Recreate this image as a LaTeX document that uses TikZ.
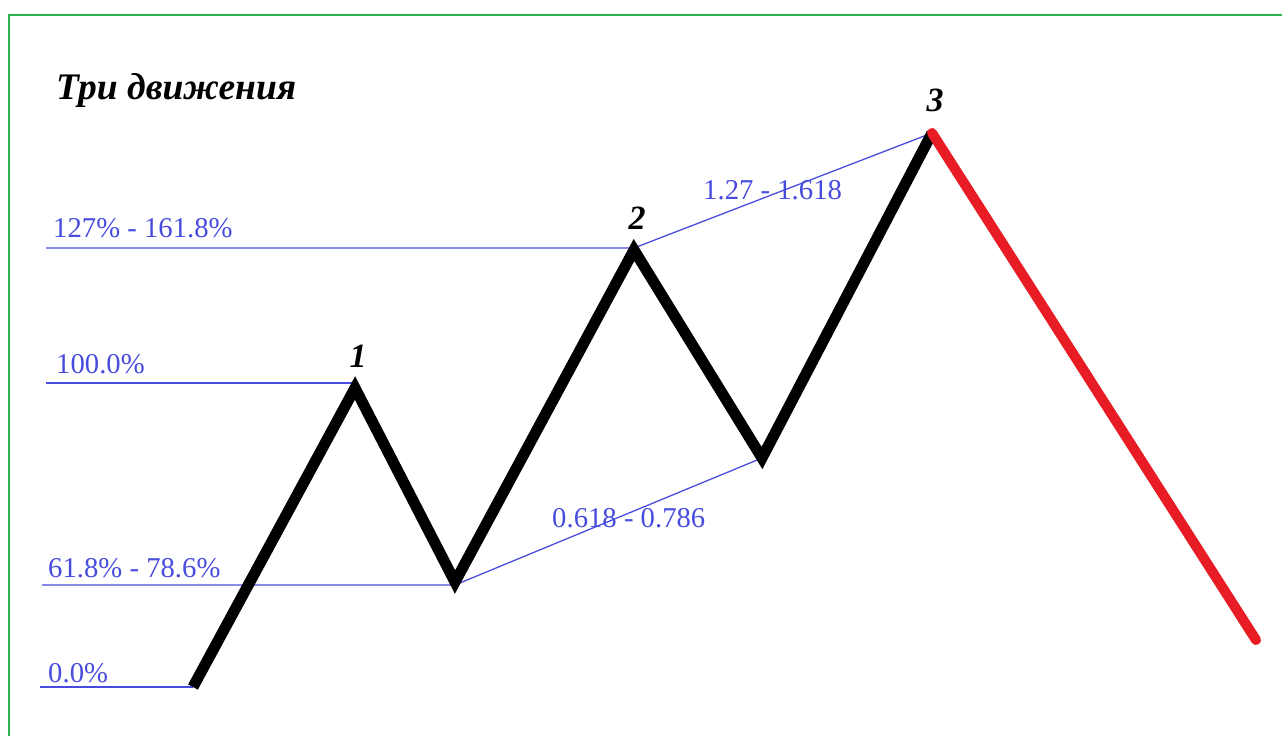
\documentclass[tikz,border=0pt]{standalone}
\usepackage{fontspec}
\setmainfont{Liberation Serif}
\usepackage{xcolor}
\usetikzlibrary{positioning,calc}

\definecolor{levelblue}{RGB}{72,76,222}
\definecolor{framegreen}{RGB}{46,180,80}
\definecolor{movered}{RGB}{232,28,36}

\begin{document}
\begin{tikzpicture}[
    x=0.03cm, y=-0.03cm,
    wave/.style={line width=9.4pt, line join=miter, black},
    back/.style={line width=8.6pt, movered, line cap=round},
    lvl/.style={levelblue, line width=1.1pt},
    lvltxt/.style={text=levelblue, font=\fontsize{24.5}{28}\selectfont, inner sep=0pt, anchor=base west},
    num/.style={font=\fontsize{29}{32}\selectfont\bfseries\itshape, inner sep=0pt, anchor=base},
]
\useasboundingbox (0,0) rectangle (1282,736);

%% Rahmen
\draw[framegreen, line width=2.1pt] (9,736) -- (9,15) -- (1282,15);

%% Punkte der Bewegung
\coordinate (p0)  at (193,687);
\coordinate (pk1) at (355,388);
\coordinate (tr1) at (455,582);
\coordinate (pk2) at (634,250);
\coordinate (tr2) at (762,458);
\coordinate (pk3) at (932,133);
\coordinate (end) at (1256,640);

%% Niveaus
\coordinate (l0)   at (40,687);
\coordinate (l618) at (42,585);
\coordinate (l100) at (46,383);
\coordinate (l127) at (46,248);

\draw[lvl] (l0) -- (l0 -| p0);
\draw[lvl] (l618) -- (l618 -| tr1) -- (tr2);
\draw[lvl] (l100) -- (l100 -| pk1);
\draw[lvl] (l127) -- (l127 -| pk2) -- (pk3);

%% Zickzack
\draw[wave] (p0) -- (pk1) -- (tr1) -- (pk2) -- (tr2) -- (pk3);
\draw[back] (pk3) -- (end);

%% Beschriftungen
\node[font=\fontsize{32}{36}\selectfont\bfseries\itshape, inner sep=0pt, anchor=base west]
    (title) at (56,100) {Три движения};

\node[lvltxt] (t127) at (53,238)  {127\% - 161.8\%};
\node[lvltxt] (t100) at (56,373)  {100.0\%};
\node[lvltxt] (t618) at (48,577)  {61.8\% - 78.6\%};
\node[lvltxt] (t0)   at (48,682)  {0.0\%};
\node[lvltxt] (r1)   at (703,200) {1.27 - 1.618};
\node[lvltxt] (r2)   at (552,527) {0.618 - 0.786};

\node[num] (n1) at (358,367) {1};
\node[num] (n2) at (637,230) {2};
\node[num] (n3) at (935,112) {3};

\end{tikzpicture}
\end{document}
